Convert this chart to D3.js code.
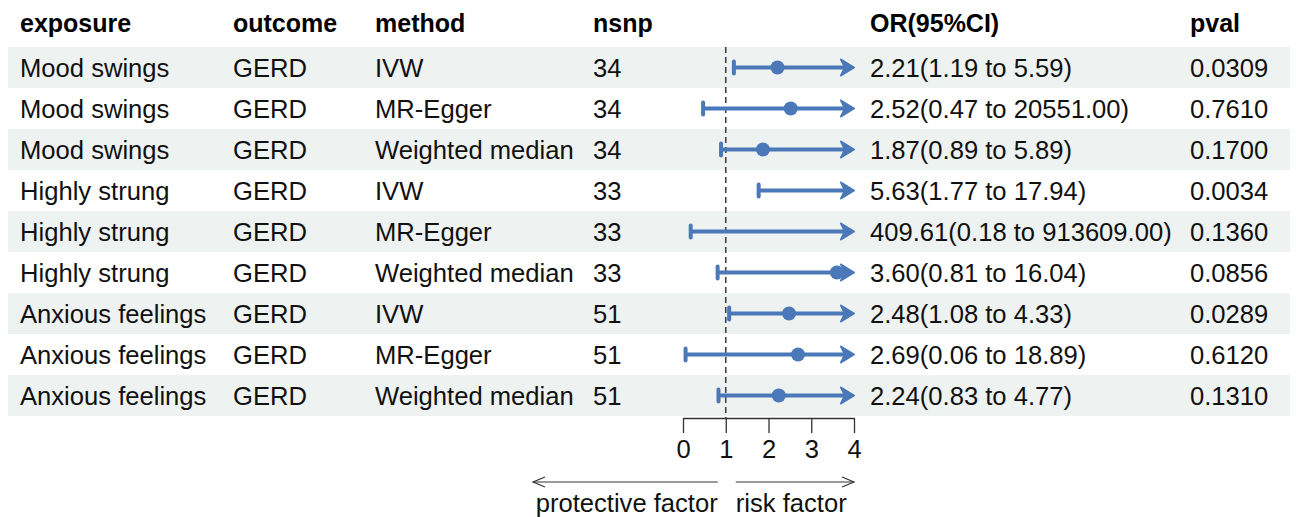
<!DOCTYPE html>
<html>
<head>
<meta charset="utf-8">
<script src="https://cdn.jsdelivr.net/npm/d3@7"></script>
<style>
  body { margin: 0; background: #fff; }
  svg { font-family: "Liberation Sans", Arial, sans-serif; }
</style>
</head>
<body>
<div id="chart"></div>
<script>
// table data
var exposures = ["Mood swings", "Mood swings", "Mood swings",
                 "Highly strung", "Highly strung", "Highly strung",
                 "Anxious feelings", "Anxious feelings", "Anxious feelings"];
var outcomes = ["GERD", "GERD", "GERD", "GERD", "GERD", "GERD", "GERD", "GERD", "GERD"];
var methods = ["IVW", "MR-Egger", "Weighted median",
               "IVW", "MR-Egger", "Weighted median",
               "IVW", "MR-Egger", "Weighted median"];
var nsnps = [34, 34, 34, 33, 33, 33, 51, 51, 51];
var orValues = [2.21, 2.52, 1.87, 5.63, 409.61, 3.60, 2.48, 2.69, 2.24];
var lowerCI = [1.19, 0.47, 0.89, 1.77, 0.18, 0.81, 1.08, 0.06, 0.83];
var upperCI = [5.59, 20551.00, 5.89, 17.94, 913609.00, 16.04, 4.33, 18.89, 4.77];
var pvals = ["0.0309", "0.7610", "0.1700", "0.0034", "0.1360", "0.0856", "0.0289", "0.6120", "0.1310"];
var headers = ["exposure", "outcome", "method", "nsnp", "OR(95%CI)", "pval"];
var xTicks = [0, 1, 2, 3, 4];

var W = 1296, H = 517;
var fontSize = 25.6;
var rowTop = 47, rowH = 41;
var colX = [20, 233, 375, 593, 870, 1190];
var blue = "#4a78b8";

var svg = d3.select("#chart").append("svg")
    .attr("width", W)
    .attr("height", H);

var rows = d3.range(exposures.length);

var y = d3.scaleBand()
    .domain(rows)
    .range([rowTop, rowTop + rowH * rows.length]);

var x = d3.scaleLinear()
    .domain([0, 4])
    .range([683, 854]);

// shaded bands
svg.selectAll("rect.band")
    .data(rows.filter(i => i % 2 === 0))
  .enter().append("rect")
    .attr("class", "band")
    .attr("x", 8)
    .attr("width", 1282)
    .attr("y", i => y(i))
    .attr("height", y.bandwidth())
    .attr("fill", "#eef2f1");

// header
svg.selectAll("text.header")
    .data(headers)
  .enter().append("text")
    .attr("class", "header")
    .attr("x", (d, i) => colX[i])
    .attr("y", 32)
    .style("font-size", "25px")
    .style("font-weight", "bold")
    .text(d => d);

function ciText(i) {
  return orValues[i].toFixed(2) + "(" + lowerCI[i].toFixed(2) + " to " + upperCI[i].toFixed(2) + ")";
}

var cols = [
  i => exposures[i],
  i => outcomes[i],
  i => methods[i],
  i => nsnps[i],
  i => ciText(i),
  i => pvals[i]
];

cols.forEach(function(fn, c) {
  svg.selectAll("text.col" + c)
      .data(rows)
    .enter().append("text")
      .attr("class", "col" + c)
      .attr("x", colX[c])
      .attr("y", i => y(i) + y.bandwidth() / 2 + 9)
      .style("font-size", fontSize + "px")
      .attr("fill", "#111")
      .text(fn);
});

// reference line at OR = 1
svg.append("line")
    .attr("x1", x(1)).attr("x2", x(1))
    .attr("y1", rowTop).attr("y2", 418)
    .attr("stroke", "#444")
    .attr("stroke-width", 1.6)
    .attr("stroke-dasharray", "6,4");

var [xmin, xmax] = x.domain();
var g = svg.append("g");

rows.forEach(function(i) {
  var cy = y(i) + y.bandwidth() / 2;
  var lo = Math.max(lowerCI[i], xmin), hi = Math.min(upperCI[i], xmax);
  g.append("line")
      .attr("x1", x(lo)).attr("x2", x(hi) - (upperCI[i] > xmax ? 5 : 0))
      .attr("y1", cy).attr("y2", cy)
      .attr("stroke", blue)
      .attr("stroke-width", 4);
  // lower cap
  if (lowerCI[i] >= xmin) {
    g.append("line")
        .attr("x1", x(lo)).attr("x2", x(lo))
        .attr("y1", cy - 6).attr("y2", cy + 6)
        .attr("stroke", blue)
        .attr("stroke-width", 4)
        .attr("stroke-linecap", "round");
  }
  // upper end: arrow if clipped, cap otherwise
  if (upperCI[i] > xmax) {
    var tx = x(xmax);
    g.append("path")
        .attr("d", "M" + (tx - 13) + "," + (cy - 8) + "L" + tx + "," + cy + "L" + (tx - 13) + "," + (cy + 8) + "L" + (tx - 9) + "," + cy + "Z")
        .attr("fill", blue)
        .attr("stroke", blue)
        .attr("stroke-width", 2)
        .attr("stroke-linejoin", "round");
  } else {
    g.append("line")
        .attr("x1", x(hi)).attr("x2", x(hi))
        .attr("y1", cy - 6).attr("y2", cy + 6)
        .attr("stroke", blue)
        .attr("stroke-width", 4);
  }
  if (orValues[i] >= xmin && orValues[i] <= xmax) {
    g.append("circle")
        .attr("cx", x(orValues[i]))
        .attr("cy", cy)
        .attr("r", 7)
        .attr("fill", blue);
  }
});

// x axis
var axis = svg.append("g")
    .attr("transform", "translate(0,418)")
    .call(d3.axisBottom(x).tickValues(xTicks).tickFormat(d3.format("d"))
      .tickSize(15).tickSizeOuter(0).tickPadding(7));
axis.select(".domain").attr("stroke", "#333").attr("stroke-width", 1.3);
axis.selectAll(".tick line").attr("stroke", "#333").attr("stroke-width", 1.3);
axis.selectAll(".tick text")
    .style("font-size", fontSize + "px")
    .style("font-family", "'Liberation Sans', Arial, sans-serif")
    .attr("fill", "#111");

// direction arrows
var ay = 482;
var arrowCol = "#333";
svg.append("line").attr("x1", 533).attr("x2", x(1) - 8).attr("y1", ay).attr("y2", ay)
    .attr("stroke", arrowCol).attr("stroke-width", 1.2);
svg.append("path").attr("d", "M545," + (ay - 5) + "L533," + ay + "L545," + (ay + 5))
    .attr("fill", "none").attr("stroke", arrowCol).attr("stroke-width", 1.2);
svg.append("line").attr("x1", x(1) + 10).attr("x2", x(4)).attr("y1", ay).attr("y2", ay)
    .attr("stroke", arrowCol).attr("stroke-width", 1.2);
svg.append("path").attr("d", "M" + (x(4) - 12) + "," + (ay - 5) + "L" + x(4) + "," + ay + "L" + (x(4) - 12) + "," + (ay + 5))
    .attr("fill", "none").attr("stroke", arrowCol).attr("stroke-width", 1.2);

svg.append("text")
    .attr("x", x(1) - 8).attr("y", 512)
    .attr("text-anchor", "end")
    .style("font-size", fontSize + "px")
    .attr("fill", "#111")
    .text("protective factor");
svg.append("text")
    .attr("x", x(1) + 10).attr("y", 512)
    .style("font-size", fontSize + "px")
    .attr("fill", "#111")
    .text("risk factor");
</script>
</body>
</html>
